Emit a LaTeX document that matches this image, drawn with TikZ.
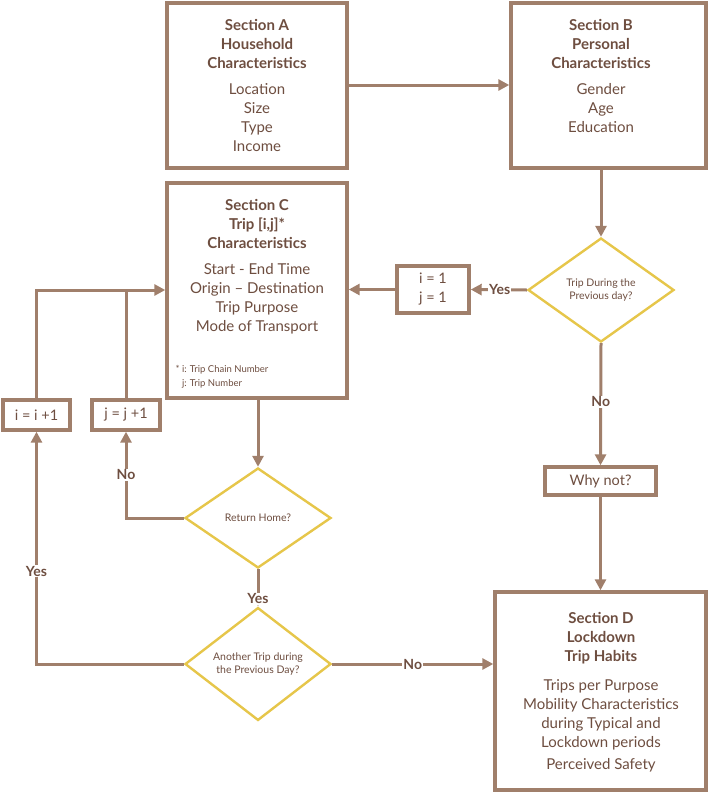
\documentclass[tikz,border=0pt]{standalone}
\usepackage{fontspec}
\setmainfont{Lato}
\usetikzlibrary{shapes.geometric,arrows.meta}
\definecolor{br}{HTML}{A07F6B}
\definecolor{dk}{HTML}{6E4E40}
\definecolor{yl}{HTML}{E6C64A}
\begin{document}
\begin{tikzpicture}[x=1pt,y=-1pt,
 box/.style={draw=br,line width=3.4pt,fill=white,text=dk,align=center,inner sep=0,font=\fontsize{14.5}{19}\selectfont},
 dia/.style={draw=yl,line width=2.4pt,diamond,fill=white,text=dk,align=center,inner sep=0,font=\fontsize{10.5}{13.5}\selectfont},
 ar/.style={draw=br,line width=3pt,-{Triangle[length=11pt,width=11pt]}},
 ln/.style={draw=br,line width=3pt},
 lab/.style={text=dk,font=\bfseries\fontsize{14}{16}\selectfont,fill=white,inner sep=1pt},
 tx/.style={text=dk,align=center,font=\fontsize{15}{19}\selectfont}]
\useasboundingbox (0,0) rectangle (709,792);
\node[box,minimum width=180,minimum height=165] (A) at (257,85.5) {};
\node[tx] at (257,85) {\textbf{Section A}\\\textbf{Household}\\\textbf{Characteristics}\\[7pt]Location\\Size\\Type\\Income};
\node[box,minimum width=195,minimum height=165] (B) at (608.5,85.5) {};
\node[tx] at (601,76) {\textbf{Section B}\\\textbf{Personal}\\\textbf{Characteristics}\\[7pt]Gender\\Age\\Education};
\node[box,minimum width=180,minimum height=215] (C) at (257,290.5) {};
\node[tx] at (257,267) {\textbf{Section C}\\\textbf{Trip [i,j]*}\\\textbf{Characteristics}\\[7pt]Start - End Time\\Origin -- Destination\\Trip Purpose\\Mode of Transport};
\node[text=dk,align=left,anchor=west,font=\fontsize{9.5}{14}\selectfont] at (172,377) {* i: Trip Chain Number\\\hphantom{* }j: Trip Number};
\node[box,minimum width=211,minimum height=198] (D) at (600.5,691) {};
\node[tx] at (601,692) {\textbf{Section D}\\\textbf{Lockdown}\\\textbf{Trip Habits}\\[10pt]Trips per Purpose\\Mobility Characteristics\\during Typical and\\Lockdown periods\\[3pt]Perceived Safety};
\node[box,minimum width=72,minimum height=47] (ij) at (433,289.5) {i = 1\\j = 1};
\node[box,minimum width=111,minimum height=28] (W) at (600.5,481) {Why not?};
\node[box,minimum width=67,minimum height=30] (ii) at (36.5,415) {i = i +1};
\node[box,minimum width=68,minimum height=30] (jj) at (126,415) {j = j +1};
\node[dia,minimum width=146,minimum height=104] (T) at (601,290) {Trip During the\\Previous day?};
\node[dia,minimum width=146,minimum height=100] (R) at (258,518) {Return Home?};
\node[dia,minimum width=146,minimum height=100] (N) at (258,664) {Another Trip during\\the Previous Day?};
\draw[ar] (A.east|-0,85) -- (B.west|-0,85);
\draw[ar] (B.south-|T.north) -- (T.north);
\draw[ar] (T.west) -- (ij.east) node[lab,midway,xshift=1pt] {Yes};
\draw[ar] (ij.west) -- (C.east|-ij.west);
\draw[ar] (T.south) -- (W.north) node[lab,pos=0.48] {No};
\draw[ar] (W.south) -- (D.north-|W.south);
\draw[ar] (C.south-|R.north) -- (R.north);
\draw[ar] (R.west) -| (jj.south) node[lab,pos=0.75] {No};
\draw[ar] (R.south) -- (N.north) node[lab,pos=0.8] {Yes};
\draw[ar] (N.west) -| (ii.south) node[lab,pos=0.7] {Yes};
\draw[ar] (N.east) -- (D.west|-N.east) node[lab,midway] {No};
\draw[ln] (jj.north) -- (jj.north|-0,290);
\draw[ar] (ii.north) |- (C.west|-0,290);
\end{tikzpicture}
\end{document}
